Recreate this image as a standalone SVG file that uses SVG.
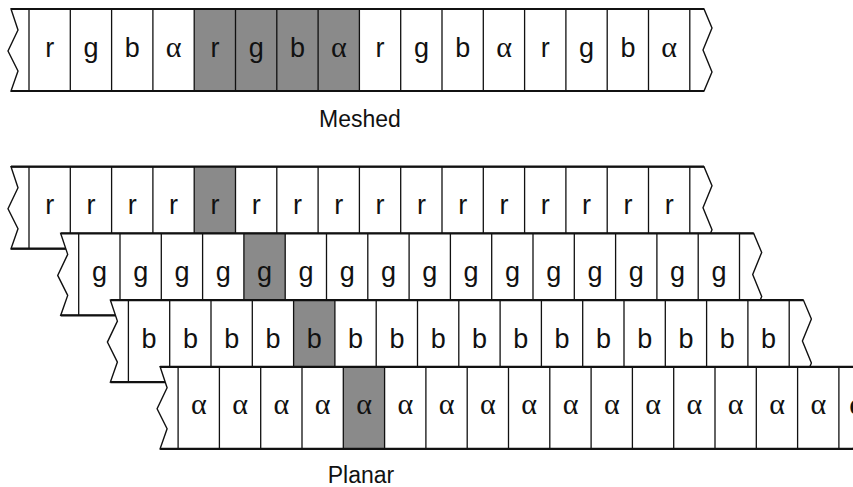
<svg xmlns="http://www.w3.org/2000/svg" xmlns:xlink="http://www.w3.org/1999/xlink" width="853" height="487" viewBox="0 0 853 487">
<style>
.bg{fill:#fff;stroke:#111;stroke-width:1.4;stroke-linejoin:miter}
.edge{stroke:#111;stroke-width:2.2;fill:none}
.div{stroke:#111;stroke-width:1.3;fill:none}
.shade{fill:#8a8a8a}
.s{font-family:"Liberation Sans",Arial,sans-serif;font-size:27px;fill:#111;text-anchor:middle}
.a{font-family:"Liberation Serif","Times New Roman",serif;font-size:30px;fill:#111;text-anchor:middle}
.lbl{font-family:"Liberation Sans",Arial,sans-serif;font-size:23px;fill:#111;text-anchor:middle}
</style>
<defs>
<g id="frame">
<path class="div" d="M0,0V82M41.3,0V82M82.6,0V82M123.9,0V82M165.2,0V82M206.5,0V82M247.8,0V82M289.1,0V82M330.4,0V82M371.7,0V82M413,0V82M454.3,0V82M495.6,0V82M536.9,0V82M578.2,0V82M619.5,0V82M660.8,0V82"/>
<path class="edge" d="M-18,0H675M-18,82H675"/>
</g>
<polygon id="body" class="bg" points="-18,0 675,0 683,19 674,41 683,63 675,82 -18,82 -11,62 -21,42 -11,21"/>
</defs>

<g id="meshed">
<use href="#body" transform="translate(29,9)"/>
<rect class="shade" x="194.2" y="9" width="165.2" height="82"/>
<use href="#frame" transform="translate(29,9)"/>
<g>
<text class="s" x="49.7" y="56.5">r</text><text class="s" x="91" y="56.5">g</text><text class="s" x="132.3" y="56.5">b</text><text class="a" x="173.6" y="56.5">α</text>
<text class="s" x="214.9" y="56.5">r</text><text class="s" x="256.2" y="56.5">g</text><text class="s" x="297.5" y="56.5">b</text><text class="a" x="338.8" y="56.5">α</text>
<text class="s" x="380.1" y="56.5">r</text><text class="s" x="421.4" y="56.5">g</text><text class="s" x="462.7" y="56.5">b</text><text class="a" x="504" y="56.5">α</text>
<text class="s" x="545.3" y="56.5">r</text><text class="s" x="586.6" y="56.5">g</text><text class="s" x="627.9" y="56.5">b</text><text class="a" x="669.2" y="56.5">α</text>
</g>
</g>
<g id="label-meshed"><text class="lbl" x="360" y="127">Meshed</text></g>

<g id="plane-r">
<use href="#body" transform="translate(29,166.7)"/>
<rect class="shade" x="194.2" y="166.7" width="41.3" height="82"/>
<use href="#frame" transform="translate(29,166.7)"/>
<g>
<text class="s" x="49.7" y="214.2">r</text><text class="s" x="91" y="214.2">r</text><text class="s" x="132.3" y="214.2">r</text><text class="s" x="173.6" y="214.2">r</text>
<text class="s" x="214.9" y="214.2">r</text><text class="s" x="256.2" y="214.2">r</text><text class="s" x="297.5" y="214.2">r</text><text class="s" x="338.8" y="214.2">r</text>
<text class="s" x="380.1" y="214.2">r</text><text class="s" x="421.4" y="214.2">r</text><text class="s" x="462.7" y="214.2">r</text><text class="s" x="504" y="214.2">r</text>
<text class="s" x="545.3" y="214.2">r</text><text class="s" x="586.6" y="214.2">r</text><text class="s" x="627.9" y="214.2">r</text><text class="s" x="669.2" y="214.2">r</text>
</g>
</g>

<g id="plane-g">
<use href="#body" transform="translate(78.7,233.4)"/>
<rect class="shade" x="243.9" y="233.4" width="41.3" height="82"/>
<use href="#frame" transform="translate(78.7,233.4)"/>
<g>
<text class="s" x="99.4" y="280.9">g</text><text class="s" x="140.7" y="280.9">g</text><text class="s" x="182" y="280.9">g</text><text class="s" x="223.3" y="280.9">g</text>
<text class="s" x="264.6" y="280.9">g</text><text class="s" x="305.9" y="280.9">g</text><text class="s" x="347.2" y="280.9">g</text><text class="s" x="388.5" y="280.9">g</text>
<text class="s" x="429.8" y="280.9">g</text><text class="s" x="471.1" y="280.9">g</text><text class="s" x="512.4" y="280.9">g</text><text class="s" x="553.7" y="280.9">g</text>
<text class="s" x="595" y="280.9">g</text><text class="s" x="636.3" y="280.9">g</text><text class="s" x="677.6" y="280.9">g</text><text class="s" x="718.9" y="280.9">g</text>
</g>
</g>

<g id="plane-b">
<use href="#body" transform="translate(128.4,300.1)"/>
<rect class="shade" x="293.6" y="300.1" width="41.3" height="82"/>
<use href="#frame" transform="translate(128.4,300.1)"/>
<g>
<text class="s" x="149.1" y="347.6">b</text><text class="s" x="190.4" y="347.6">b</text><text class="s" x="231.7" y="347.6">b</text><text class="s" x="273" y="347.6">b</text>
<text class="s" x="314.3" y="347.6">b</text><text class="s" x="355.6" y="347.6">b</text><text class="s" x="396.9" y="347.6">b</text><text class="s" x="438.2" y="347.6">b</text>
<text class="s" x="479.5" y="347.6">b</text><text class="s" x="520.8" y="347.6">b</text><text class="s" x="562.1" y="347.6">b</text><text class="s" x="603.4" y="347.6">b</text>
<text class="s" x="644.7" y="347.6">b</text><text class="s" x="686" y="347.6">b</text><text class="s" x="727.3" y="347.6">b</text><text class="s" x="768.6" y="347.6">b</text>
</g>
</g>

<g id="plane-alpha">
<use href="#body" transform="translate(178.1,366.8)"/>
<rect class="shade" x="343.3" y="366.8" width="41.3" height="82"/>
<use href="#frame" transform="translate(178.1,366.8)"/>
<g>
<text class="a" x="198.8" y="414.3">α</text><text class="a" x="240.1" y="414.3">α</text><text class="a" x="281.4" y="414.3">α</text><text class="a" x="322.7" y="414.3">α</text>
<text class="a" x="364" y="414.3">α</text><text class="a" x="405.3" y="414.3">α</text><text class="a" x="446.6" y="414.3">α</text><text class="a" x="487.9" y="414.3">α</text>
<text class="a" x="529.2" y="414.3">α</text><text class="a" x="570.5" y="414.3">α</text><text class="a" x="611.8" y="414.3">α</text><text class="a" x="653.1" y="414.3">α</text>
<text class="a" x="694.4" y="414.3">α</text><text class="a" x="735.7" y="414.3">α</text><text class="a" x="777" y="414.3">α</text><text class="a" x="818.3" y="414.3">α</text>
<text class="a" x="857" y="414.3">α</text>
</g>
</g>
<g id="label-planar"><text class="lbl" x="361" y="483">Planar</text></g>
</svg>
